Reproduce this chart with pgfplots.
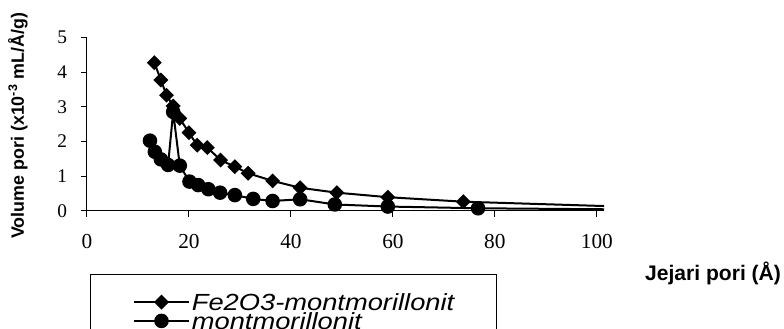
\documentclass[border=0pt]{standalone}
\usepackage{fontspec}
\setmainfont{Liberation Serif}
\setsansfont{Liberation Sans}
\newfontfamily\legfont[FakeStretch=1.17]{Liberation Sans}
\usepackage{pgfplots}
\pgfplotsset{compat=1.18}
\begin{document}
\begin{tikzpicture}
\begin{axis}[
  scale only axis,
  width=387.75pt, height=130pt,
  xmin=0, xmax=101.4, ymin=0, ymax=5,
  axis x line=bottom, axis y line=left,
  hide obscured x ticks=false, hide obscured y ticks=false,
  axis line style={-, line width=0.75pt, black},
  xtick={0,20,40,60,80,100}, ytick={0,1,2,3,4,5},
  tick align=outside,
  major tick length=4.5pt,
  tick style={line width=0.75pt, black},
  /pgf/number format/assume math mode=true,
  xticklabel style={font=\fontsize{16}{16}\selectfont, anchor=center, inner sep=0pt, yshift=-18.8pt},
  yticklabel style={font=\fontsize{14.5}{14.5}\selectfont, anchor=east, inner sep=0pt, xshift=-10.3pt},
  every axis x label/.style={at={(axis description cs:1.211,-0.359)}, anchor=center, font=\sffamily\bfseries\fontsize{15.8}{16}\selectfont},
  every axis y label/.style={at={(axis description cs:0,0.49)}, xshift=-51.75pt, rotate=90, anchor=center, font=\sffamily\bfseries\fontsize{13.4}{14}\selectfont},
  xlabel={Jejari pori (Å)},
  ylabel={Volume pori (x10\textsuperscript{-3} mL/Å/g)},
  legend cell align=left,
  legend style={at={(axis description cs:0.0058,-0.365)}, anchor=north west,
    draw=black, line width=0.75pt, inner xsep=32pt, inner ysep=16.2pt,
    column sep=1.5pt, row sep=0pt,
    font=\legfont\itshape\fontsize{17.5}{12.4}\selectfont,
    nodes={inner sep=0pt, text height=9.5pt, text depth=2.9pt}},
  legend image code/.code={\draw[mark repeat=2,mark phase=2] plot coordinates {(0pt,3.2pt) (20.5pt,3.2pt) (41pt,3.2pt)};},
]
\addplot[black, line width=1.5pt, mark=square*, mark size=3.2pt, mark options={rotate=45, solid, fill=black}] coordinates {
(13.2,4.27) (14.5,3.77) (15.6,3.33) (16.9,3.02) (18.2,2.66) (20.0,2.25) (21.6,1.89) (23.6,1.82) (26.2,1.46) (29.0,1.27) (31.6,1.08) (36.4,0.86) (41.8,0.66) (49.0,0.52) (59.0,0.39) (73.8,0.26) (120,0.05)
};
\addlegendentry{Fe2O3-montmorillonit}
\addplot[black, line width=1.5pt, mark=*, mark size=4.7pt, mark options={solid, fill=black}] coordinates {
(12.35,2.02) (13.3,1.70) (14.5,1.48) (15.9,1.32) (16.9,2.85) (18.2,1.30) (20.1,0.84) (21.8,0.74) (23.8,0.62) (26.1,0.52) (29.0,0.45) (32.6,0.34) (36.4,0.28) (41.8,0.33) (48.6,0.18) (59.0,0.12) (76.7,0.07) (120,0.02)
};
\addlegendentry{montmorillonit}
\end{axis}
\pgfresetboundingbox
\useasboundingbox (-65.25pt,-87.975pt) rectangle (522.75pt,158.025pt);
\end{tikzpicture}
\end{document}
